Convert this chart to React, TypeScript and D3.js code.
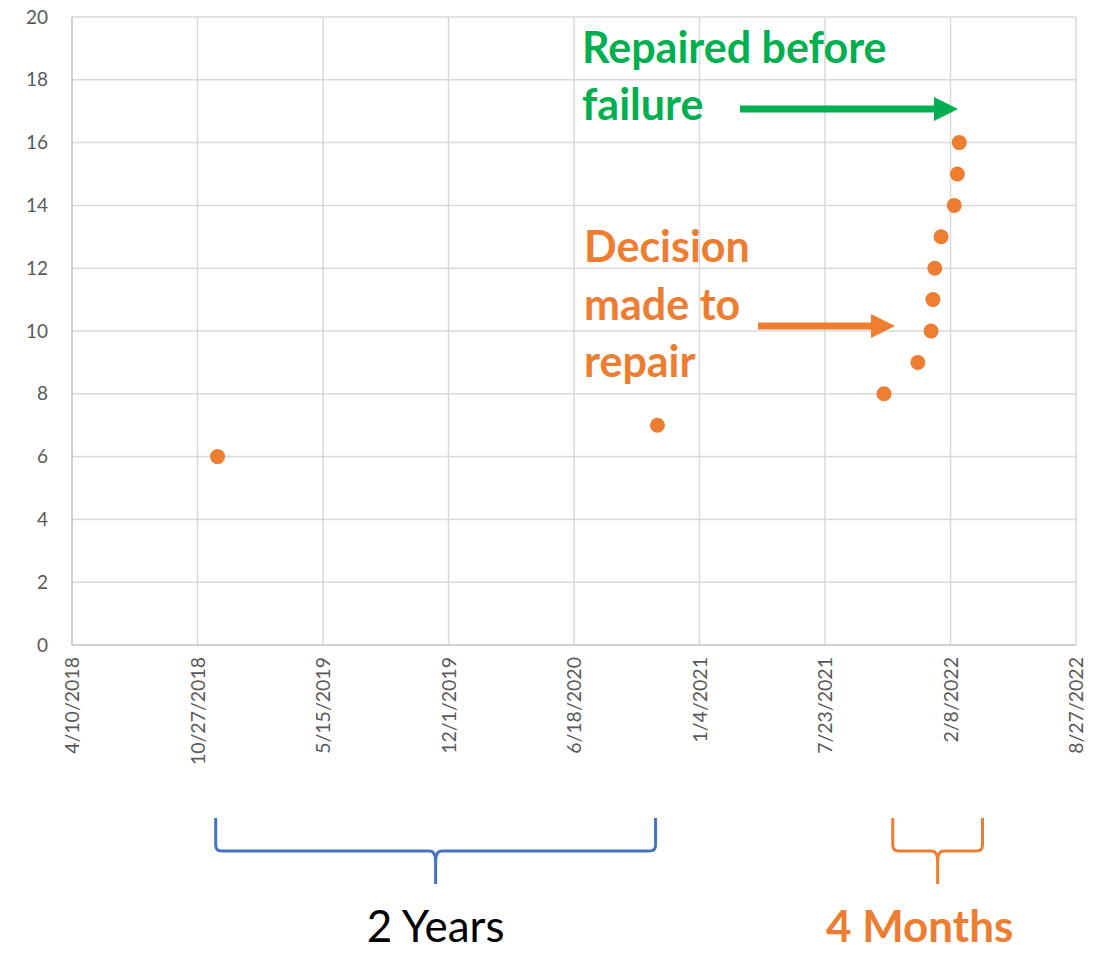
import { useEffect, useRef } from 'react';
import * as d3 from 'd3';

const W = 1102;
const H = 953;

// tick dates on the x axis (every 200 days)
const xTickLabels = [
  '4/10/2018', '10/27/2018', '5/15/2019', '12/1/2019', '6/18/2020',
  '1/4/2021', '7/23/2021', '2/8/2022', '8/27/2022',
];
const yTicks = [0, 2, 4, 6, 8, 10, 12, 14, 16, 18, 20];

// observations
const pointDates = [
  '11/28/2018', '10/29/2020', '10/25/2021', '12/18/2021', '1/8/2022',
  '1/11/2022', '1/14/2022', '1/24/2022', '2/14/2022', '2/19/2022', '2/22/2022',
];
const pointValues = [6, 7, 8, 9, 10, 11, 12, 13, 14, 15, 16];

// brace spans (date ranges under the axis)
const braceSpans = [
  { from: '11/25/2018', to: '10/26/2020', color: '#4472C4', label: '2 Years', bold: false, textColor: '#000000', labelShift: 0 },
  { from: '11/8/2021', to: '3/31/2022', color: '#ED7D31', label: '4 Months', bold: true, textColor: '#ED7D31', labelShift: -18 },
];

const parse = (s: string) => {
  const [m, d, y] = s.split('/').map(Number);
  return new Date(Date.UTC(y, m - 1, d));
};

const ORANGE = '#ED7D31';
const GREEN = '#00B050';
const FONT = 'Lato, "Open Sans", sans-serif';

export default function App() {
  const svgRef = useRef<SVGSVGElement>(null);

  useEffect(() => {
    document.body.style.margin = '0';
    const svg = d3.select(svgRef.current);
    svg.selectAll('*').remove();

    const left = 72;
    const right = 1076;
    const top = 17;
    const bottom = 645;

    const tickDates = xTickLabels.map(parse);
    const x = d3
      .scaleUtc()
      .domain([tickDates[0], tickDates[tickDates.length - 1]])
      .range([left, right]);
    const y = d3.scaleLinear().domain([0, 20]).range([bottom, top]);

    const g = svg.append('g');

    // gridlines
    g.selectAll('.hgrid')
      .data(yTicks.filter((v) => v > 0))
      .join('line')
      .attr('x1', left)
      .attr('x2', right)
      .attr('y1', (d) => y(d))
      .attr('y2', (d) => y(d))
      .attr('stroke', '#D9D9D9')
      .attr('stroke-width', 1.5);

    g.selectAll('.vgrid')
      .data(tickDates.slice(1))
      .join('line')
      .attr('x1', (d) => x(d))
      .attr('x2', (d) => x(d))
      .attr('y1', top)
      .attr('y2', bottom)
      .attr('stroke', '#D9D9D9')
      .attr('stroke-width', 1.5);

    // axis lines
    g.append('line')
      .attr('x1', left).attr('x2', left)
      .attr('y1', top).attr('y2', bottom)
      .attr('stroke', '#BFBFBF').attr('stroke-width', 1.5);
    g.append('line')
      .attr('x1', left).attr('x2', right)
      .attr('y1', bottom).attr('y2', bottom)
      .attr('stroke', '#BFBFBF').attr('stroke-width', 1.5);

    // y tick labels
    g.selectAll('.ylab')
      .data(yTicks)
      .join('text')
      .attr('x', 48)
      .attr('y', (d) => y(d))
      .attr('dy', '0.35em')
      .attr('text-anchor', 'end')
      .attr('fill', '#595959')
      .attr('font-size', 19)
      .attr('font-family', FONT)
      .text((d) => d);

    // x tick labels (rotated)
    g.selectAll('.xlab')
      .data(tickDates)
      .join('text')
      .attr('transform', (d) => `translate(${x(d) + 7},${bottom + 12}) rotate(-90)`)
      .attr('text-anchor', 'end')
      .attr('fill', '#595959')
      .attr('font-size', 19.5)
      .attr('font-family', FONT)
      .text((_, i) => xTickLabels[i]);

    // points
    g.selectAll('.pt')
      .data(pointDates.map((d, i) => ({ date: parse(d), value: pointValues[i] })))
      .join('circle')
      .attr('cx', (d) => x(d.date))
      .attr('cy', (d) => y(d.value))
      .attr('r', 7.5)
      .attr('fill', ORANGE);

    // arrows
    const arrow = (x1: number, x2: number, yy: number, color: string) => {
      g.append('line')
        .attr('x1', x1).attr('x2', x2 - 22)
        .attr('y1', yy).attr('y2', yy)
        .attr('stroke', color).attr('stroke-width', 7);
      g.append('path')
        .attr('d', `M${x2 - 24},${yy - 12}L${x2},${yy}L${x2 - 24},${yy + 12}Z`)
        .attr('fill', color);
    };
    arrow(740, 958, 109, GREEN);
    arrow(758, 895, 326, ORANGE);

    // annotation text
    const note = (lines: string[], x0: number, y0: number, lh: number, color: string) => {
      const t = g.append('text')
        .attr('fill', color)
        .attr('font-size', 43)
        .attr('font-weight', 700)
        .attr('font-family', FONT);
      lines.forEach((l, i) => {
        t.append('tspan').attr('x', x0).attr('y', y0 + i * lh).text(l);
      });
    };
    note(['Repaired before', 'failure'], 582, 63, 57, GREEN);
    note(['Decision', 'made to', 'repair'], 584, 262, 57.5, ORANGE);

    // braces
    const yTop = 818;
    const yMid = 851;
    const yTip = 884;
    braceSpans.forEach((b) => {
      const x0 = x(parse(b.from));
      const x1 = x(parse(b.to));
      const xc = (x0 + x1) / 2;
      const r = 6;
      const p = d3.path();
      p.moveTo(x0, yTop);
      p.lineTo(x0, yMid - r);
      p.quadraticCurveTo(x0, yMid, x0 + r, yMid);
      p.lineTo(xc - 6, yMid);
      p.quadraticCurveTo(xc, yMid, xc, yMid + 10);
      p.lineTo(xc, yTip);
      p.moveTo(xc, yMid + 10);
      p.quadraticCurveTo(xc, yMid, xc + 6, yMid);
      p.lineTo(x1 - r, yMid);
      p.quadraticCurveTo(x1, yMid, x1, yMid - r);
      p.lineTo(x1, yTop);
      g.append('path')
        .attr('d', p.toString())
        .attr('fill', 'none')
        .attr('stroke', b.color)
        .attr('stroke-width', 3);
      g.append('text')
        .attr('x', xc + b.labelShift)
        .attr('y', 942)
        .attr('text-anchor', 'middle')
        .attr('fill', b.textColor)
        .attr('font-size', 44)
        .attr('font-weight', b.bold ? 700 : 400)
        .attr('font-family', FONT)
        .text(b.label);
    });
  }, []);

  return <svg ref={svgRef} width={W} height={H} style={{ display: 'block', background: '#fff' }} />;
}
